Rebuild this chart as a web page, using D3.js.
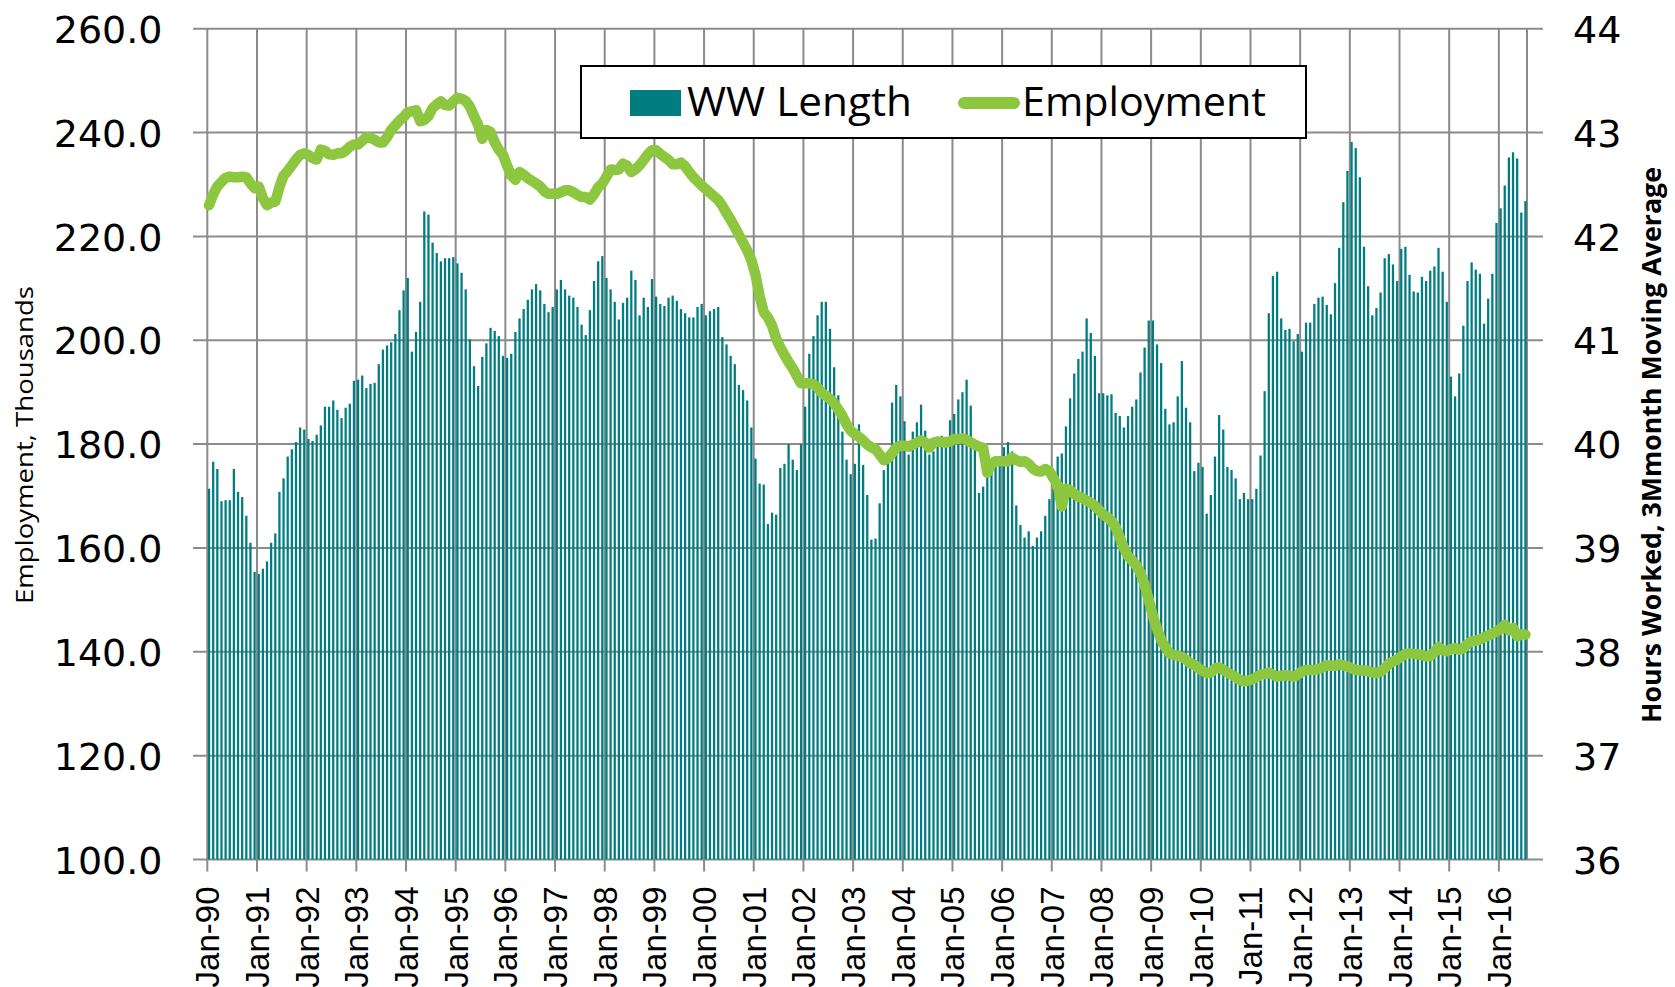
<!DOCTYPE html>
<html>
<head>
<meta charset="utf-8">
<script src="https://cdn.jsdelivr.net/npm/d3@7"></script>
<style>
  body { margin: 0; background: #fff; }
  svg { display: block; }
</style>
</head>
<body>
<div class="chart-container"></div>
<script>
// monthly categories, Jan-90 .. Jul-16
var months = d3.timeMonth.range(new Date(1990, 0, 1), new Date(2016, 7, 1));

// WW Length, hours (right axis), one value per month
var wwLength = [
  39.57, 39.83, 39.76, 39.45, 39.46, 39.46, 39.76, 39.54, 39.49, 39.31, 39.05, 38.77,
  38.75, 38.80, 38.87, 39.05, 39.14, 39.54, 39.67, 39.88, 39.95, 40.02, 40.16, 40.14,
  40.05, 40.03, 40.09, 40.18, 40.36, 40.36, 40.42, 40.33, 40.25, 40.35, 40.39, 40.61,
  40.62, 40.66, 40.54, 40.58, 40.59, 40.77, 40.91, 40.95, 40.98, 41.06, 41.29, 41.48,
  41.60, 40.89, 41.08, 41.37, 42.24, 42.21, 41.94, 41.84, 41.76, 41.79, 41.79, 41.80,
  41.74, 41.65, 41.49, 41.01, 40.75, 40.56, 40.84, 40.97, 41.12, 41.09, 41.04, 40.85,
  40.83, 40.87, 41.08, 41.21, 41.30, 41.39, 41.49, 41.54, 41.48, 41.35, 41.27, 41.32,
  41.49, 41.58, 41.49, 41.43, 41.41, 41.32, 41.15, 41.05, 41.29, 41.57, 41.76, 41.81,
  41.60, 41.49, 41.37, 41.20, 41.36, 41.41, 41.67, 41.58, 41.24, 41.41, 41.32, 41.59,
  41.42, 41.35, 41.33, 41.41, 41.43, 41.38, 41.30, 41.26, 41.22, 41.22, 41.32, 41.35,
  41.24, 41.28, 41.30, 41.32, 41.03, 40.96, 40.85, 40.77, 40.57, 40.52, 40.42, 40.16,
  39.86, 39.62, 39.61, 39.23, 39.34, 39.32, 39.77, 39.81, 40.00, 39.85, 39.75, 40.00,
  40.36, 40.87, 41.04, 41.24, 41.37, 41.37, 41.11, 40.74, 40.47, 40.12, 39.85, 39.71,
  39.81, 40.19, 39.80, 39.51, 39.08, 39.09, 39.43, 39.75, 39.87, 40.40, 40.57, 40.46,
  40.22, 39.90, 40.12, 40.21, 40.38, 40.13, 39.90, 39.93, 40.04, 40.08, 40.07, 40.23,
  40.29, 40.43, 40.50, 40.62, 40.37, 40.03, 39.53, 39.59, 39.91, 39.82, 39.86, 39.83,
  39.97, 40.02, 39.93, 39.41, 39.22, 39.10, 39.16, 39.02, 39.10, 39.16, 39.31, 39.47,
  39.57, 39.88, 39.91, 40.17, 40.44, 40.68, 40.82, 40.89, 41.21, 41.07, 40.85, 40.49,
  40.49, 40.47, 40.48, 40.30, 40.27, 40.16, 40.27, 40.36, 40.43, 40.69, 40.93, 41.19,
  41.19, 40.96, 40.78, 40.34, 40.19, 40.21, 40.46, 40.80, 40.35, 40.21, 39.74, 39.82,
  39.78, 39.33, 39.51, 39.88, 40.28, 40.14, 39.78, 39.75, 39.67, 39.47, 39.53, 39.47,
  39.47, 39.57, 39.89, 40.51, 41.26, 41.62, 41.66, 41.21, 41.10, 41.11, 40.99, 41.06,
  40.89, 41.17, 41.17, 41.35, 41.41, 41.42, 41.34, 41.25, 41.55, 41.89, 42.33, 42.63,
  42.91, 42.85, 42.57, 41.90, 41.52, 41.24, 41.31, 41.46, 41.79, 41.83, 41.73, 41.57,
  41.88, 41.90, 41.63, 41.47, 41.46, 41.61, 41.57, 41.67, 41.71, 41.89, 41.66, 41.37,
  40.65, 40.46, 40.68, 41.14, 41.57, 41.75, 41.68, 41.64, 41.16, 41.40, 41.64, 42.13,
  42.27, 42.49, 42.76, 42.81, 42.75, 42.23, 42.34
];

// Employment, thousands (left axis)
var employment = [
  226.0, 228.1, 229.6, 230.5, 231.3, 231.5, 231.4, 231.4, 231.5, 231.4, 230.2, 229.3,
  229.6, 227.4, 226.0, 226.5, 226.7, 229.5, 231.7, 232.6, 233.7, 234.8, 235.7, 236.0,
  235.7, 235.1, 234.8, 236.7, 236.5, 235.8, 235.7, 236.0, 236.0, 236.5, 237.3, 237.7,
  237.7, 238.4, 239.1, 239.0, 238.6, 238.1, 238.1, 239.1, 240.5, 241.4, 242.3, 243.0,
  243.9, 244.1, 244.3, 242.2, 242.4, 243.2, 244.7, 245.4, 246.0, 245.3, 245.2, 246.0,
  246.7, 246.5, 246.1, 245.0, 243.2, 241.5, 238.8, 240.5, 240.1, 238.1, 236.7, 235.7,
  233.6, 231.7, 230.9, 232.4, 231.9, 231.2, 230.7, 230.2, 229.6, 228.7, 228.2, 228.2,
  228.2, 228.5, 228.9, 228.9, 228.5, 228.0, 227.6, 227.6, 227.1, 228.1, 229.5, 230.2,
  231.5, 232.9, 232.8, 232.9, 234.0, 233.6, 232.4, 232.9, 233.7, 234.7, 235.8, 236.6,
  236.6, 235.9, 235.3, 234.7, 233.9, 233.9, 234.2, 233.5, 232.4, 231.4, 230.6, 229.8,
  229.1, 228.4, 227.7, 227.0, 225.9, 224.5, 223.2, 221.8, 220.3, 218.8, 217.3, 215.4,
  212.6, 208.5, 205.4, 204.4, 202.8, 200.3, 198.6, 197.2, 195.8, 194.6, 193.1, 191.7,
  191.7, 191.7, 191.5, 190.9, 189.9, 189.3, 188.7, 187.9, 186.7, 185.4, 183.8, 182.6,
  181.9, 181.4, 180.7, 179.9, 179.4, 179.0, 178.0, 176.9, 177.3, 178.3, 179.3, 179.7,
  179.7, 179.5, 179.9, 180.3, 180.7, 180.3, 179.3, 180.3, 180.5, 180.4, 180.3, 180.5,
  181.0, 181.0, 181.1, 180.8, 180.3, 179.9, 179.5, 179.3, 174.5, 176.2, 176.7, 176.7,
  176.7, 176.7, 177.4, 176.9, 176.6, 176.7, 176.2, 175.3, 174.8, 174.7, 175.2, 174.8,
  173.4, 172.1, 168.0, 171.4, 171.1, 170.4, 169.9, 169.6, 169.1, 168.7, 168.1, 167.3,
  166.4, 165.9, 165.2, 164.0, 162.0, 160.0, 158.4, 157.6, 156.6, 155.2, 152.9, 150.0,
  146.9, 144.4, 142.3, 140.9, 139.7, 139.4, 139.2, 139.0, 138.5, 137.8, 137.5, 136.8,
  136.4, 135.9, 136.0, 136.8, 137.0, 136.5, 136.0, 135.6, 135.1, 134.6, 134.3, 134.5,
  134.7, 135.1, 135.6, 135.7, 136.0, 135.6, 135.2, 135.4, 135.5, 135.4, 135.2, 135.6,
  136.2, 136.5, 136.5, 136.5, 136.7, 137.0, 137.4, 137.3, 137.3, 137.6, 137.4, 137.2,
  136.8, 136.5, 136.4, 136.4, 136.3, 136.0, 135.9, 136.2, 136.8, 137.7, 138.1, 138.5,
  139.1, 139.6, 139.7, 139.6, 139.5, 139.4, 139.1, 139.2, 139.9, 140.9, 140.3, 140.1,
  140.5, 140.7, 140.4, 140.7, 141.5, 142.0, 142.1, 142.4, 142.8, 143.1, 143.5, 143.9,
  144.4, 145.2, 144.1, 144.6, 143.0, 143.4, 143.3
];

var leftTicks = [100, 120, 140, 160, 180, 200, 220, 240, 260];
var rightTicks = [36, 37, 38, 39, 40, 41, 42, 43, 44];
var seriesNames = ["WW Length", "Employment"];
var leftTitle = "Employment, Thousands";
var rightTitle = "Hours Worked, 3Mmonth Moving Average";

var width = 1675, height = 987;
var plot = {left: 207.5, right: 1527, top: 28.7, bottom: 859.5};
var teal = "#007d80", green = "#8dc63f", gridColor = "#8b8b8b";

var data = months.map(function(m, i) {
  return {month: m, ww: wwLength[i], emp: employment[i]};
});
var januaries = months.filter(function(m) { return m.getMonth() === 0; });

// scales
var x = d3.scaleBand()
  .domain(months)
  .range([plot.left, plot.right])
  .paddingInner(0.45)
  .paddingOuter(0.1);
var yLeft = d3.scaleLinear().domain([100, 260]).range([plot.bottom, plot.top]);
var yRight = d3.scaleLinear().domain([36, 44]).range([plot.bottom, plot.top]);
var gridShift = 0.6;
function gridX(d) { return x(d) - gridShift; }

var svg = d3.select("div.chart-container")
  .append("svg")
  .attr("width", width)
  .attr("height", height)
  .style("background", "#fff");

// horizontal grid (incl. stubs beyond both sides)
svg.append("g")
  .selectAll("line")
  .data(leftTicks)
  .enter()
  .append("line")
  .attr("x1", 193)
  .attr("x2", 1543)
  .attr("y1", function(d) { return yLeft(d); })
  .attr("y2", function(d) { return yLeft(d); })
  .attr("stroke", gridColor)
  .attr("stroke-width", 2);

// vertical grid at each January + right border
svg.append("g")
  .selectAll("line")
  .data(januaries)
  .enter()
  .append("line")
  .attr("x1", gridX)
  .attr("x2", gridX)
  .attr("y1", plot.top)
  .attr("y2", plot.bottom)
  .attr("stroke", gridColor)
  .attr("stroke-width", 2);
svg.append("line")
  .attr("x1", plot.right)
  .attr("x2", plot.right)
  .attr("y1", plot.top)
  .attr("y2", plot.bottom)
  .attr("stroke", gridColor)
  .attr("stroke-width", 2);

// bars
svg.append("g")
  .selectAll(".bar")
  .data(data)
  .enter()
  .append("rect")
  .attr("class", "bar")
  .attr("x", function(d) { return x(d.month); })
  .attr("width", x.bandwidth())
  .attr("y", function(d) { return yRight(d.ww); })
  .attr("height", function(d) { return yRight(36) - yRight(d.ww); })
  .attr("fill", teal);

// employment line
var line = d3.line()
  .x(function(d) { return x(d.month) + x.bandwidth() / 2; })
  .y(function(d) { return yLeft(d.emp); });
svg.append("path")
  .datum(data)
  .attr("d", line)
  .attr("fill", "none")
  .attr("stroke", green)
  .attr("stroke-width", 10.5)
  .attr("stroke-linejoin", "round")
  .attr("stroke-linecap", "round");

// left axis
var leftAxis = svg.append("g")
  .attr("transform", "translate(" + plot.left + ",0)")
  .call(d3.axisLeft(yLeft)
    .tickValues(leftTicks)
    .tickSize(0)
    .tickPadding(45)
    .tickFormat(d3.format(".1f")));
leftAxis.select(".domain").remove();
leftAxis.selectAll("text")
  .attr("dy", "0.36em")
  .style("font-family", "'DejaVu Sans', sans-serif")
  .style("font-size", "38px")
  .attr("fill", "#000");

// right axis
var rightAxis = svg.append("g")
  .attr("transform", "translate(" + plot.right + ",0)")
  .call(d3.axisRight(yRight)
    .tickValues(rightTicks)
    .tickSize(0)
    .tickPadding(46)
    .tickFormat(d3.format("d")));
rightAxis.select(".domain").remove();
rightAxis.selectAll("text")
  .attr("dy", "0.36em")
  .style("font-family", "'DejaVu Sans', sans-serif")
  .style("font-size", "38px")
  .attr("fill", "#000");

// bottom axis, ticks at January boundaries
var bottomAxis = svg.append("g")
  .attr("transform", "translate(" + (-x.bandwidth() / 2 - gridShift) + "," + plot.bottom + ")")
  .call(d3.axisBottom(x)
    .tickValues(januaries)
    .tickSize(12)
    .tickFormat(d3.timeFormat("%b-%y")));
bottomAxis.select(".domain").remove();
bottomAxis.selectAll(".tick line")
  .attr("stroke", gridColor)
  .attr("stroke-width", 2);
bottomAxis.selectAll("text")
  .attr("transform", "rotate(-90)")
  .attr("text-anchor", "end")
  .attr("x", -27)
  .attr("y", 12)
  .attr("dy", 0)
  .style("font-family", "'Liberation Sans', Arial, sans-serif")
  .style("font-size", "33px")
  .attr("fill", "#000");

// axis titles
svg.append("text")
  .attr("transform", "translate(33,445) rotate(-90)")
  .attr("text-anchor", "middle")
  .attr("textLength", 318)
  .attr("lengthAdjust", "spacingAndGlyphs")
  .style("font-family", "'Open Sans', sans-serif")
  .style("font-size", "23px")
  .text(leftTitle);

svg.append("text")
  .attr("transform", "translate(1661,445) rotate(-90)")
  .attr("text-anchor", "middle")
  .attr("textLength", 556)
  .attr("lengthAdjust", "spacingAndGlyphs")
  .style("font-family", "'Open Sans', sans-serif")
  .style("font-weight", "bold")
  .style("font-size", "27px")
  .text(rightTitle);

// legend
var legend = svg.append("g");
legend.append("rect")
  .attr("x", 581)
  .attr("y", 66)
  .attr("width", 725)
  .attr("height", 72)
  .attr("fill", "#fff")
  .attr("stroke", "#000")
  .attr("stroke-width", 2);
legend.append("rect")
  .attr("x", 630)
  .attr("y", 90)
  .attr("width", 51)
  .attr("height", 26)
  .attr("fill", teal);
legend.append("text")
  .attr("x", 687)
  .attr("y", 116)
  .attr("textLength", 225)
  .attr("lengthAdjust", "spacingAndGlyphs")
  .style("font-family", "'Open Sans', sans-serif")
  .style("font-size", "41px")
  .text(seriesNames[0]);
legend.append("line")
  .attr("x1", 964)
  .attr("x2", 1014)
  .attr("y1", 103)
  .attr("y2", 103)
  .attr("stroke", green)
  .attr("stroke-width", 12)
  .attr("stroke-linecap", "round");
legend.append("text")
  .attr("x", 1022)
  .attr("y", 116)
  .attr("textLength", 244)
  .attr("lengthAdjust", "spacingAndGlyphs")
  .style("font-family", "'Open Sans', sans-serif")
  .style("font-size", "41px")
  .text(seriesNames[1]);
</script>
</body>
</html>
